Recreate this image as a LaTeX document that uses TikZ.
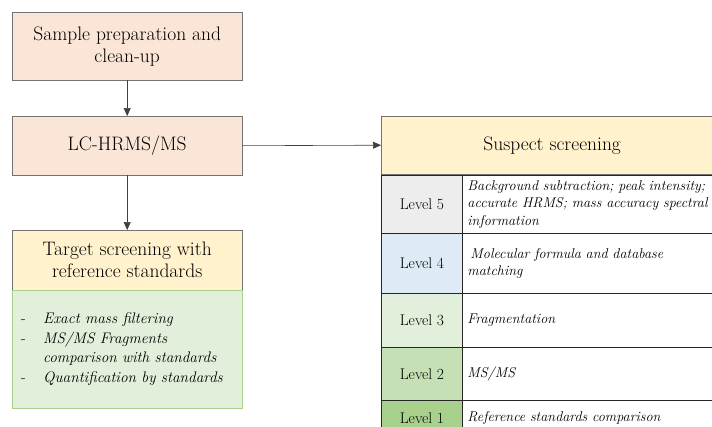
\documentclass[tikz,border=0pt]{standalone}
\usetikzlibrary{arrows.meta}
\definecolor{peach}{HTML}{FBE5D6}
\definecolor{cream}{HTML}{FFF2CC}
\definecolor{palegreen}{HTML}{E2EFDA}
\definecolor{edgegreen}{HTML}{A9D18E}
\definecolor{levelfive}{HTML}{EDEDED}
\definecolor{levelfour}{HTML}{DEEBF7}
\definecolor{levelthree}{HTML}{E2EFDA}
\definecolor{leveltwo}{HTML}{C5E0B4}
\definecolor{levelone}{HTML}{A9D18E}
\begin{document}
\begin{tikzpicture}[x=1pt,y=-1pt,
    box/.style={anchor=north west, inner sep=0pt, align=center,
        font=\fontsize{19.5}{22}\selectfont},
    stage/.style={box, draw=black!55, fill=peach, minimum width=230pt},
    header/.style={box, draw=black!55, fill=cream},
    levelcell/.style={anchor=north west, draw=black!85, line width=0.9pt,
        minimum width=81pt, inner sep=0pt, font=\fontsize{15.5}{17}\selectfont},
    desccell/.style={anchor=north west, draw=black!85, line width=0.9pt,
        minimum width=262pt, text width=252pt, inner sep=0pt, align=left,
        font=\itshape\fontsize{14.2}{17.5}\selectfont},
    flow/.style={draw=black!75, line width=0.6pt, -{Triangle[length=8pt,width=7pt]}}]
    \useasboundingbox (0,0) rectangle (712,426);
    \clip (0,0) rectangle (712,426);

    % left column
    \node[stage, minimum height=68pt] (prep) at (12,12) {Sample preparation and\\clean-up};
    \node[stage, minimum height=59pt] (lchrms) at (12,116) {LC-HRMS/MS};
    \node[header, minimum width=230pt, minimum height=60pt] (target) at (12,230)
        {Target screening with\\reference standards};
    \node[anchor=north west, draw=edgegreen, fill=palegreen, minimum width=230pt,
        minimum height=118pt, inner sep=0pt] (targetbody) at (12,290) {};
    \node[anchor=west, inner sep=0pt, font=\itshape\fontsize{15.3}{19.5}\selectfont]
        (targetlist) at (21,349) {\begin{tabular}{@{}p{22pt}@{}l@{}}
        \upshape- & Exact mass filtering\\
        \upshape- & MS/MS Fragments\\
                  & comparison with standards\\
        \upshape- & Quantification by standards
        \end{tabular}};

    % suspect screening table
    \node[header, minimum width=342pt, minimum height=58pt] (suspect) at (381,116) {Suspect screening};
    \foreach \lv/\top/\h/\col/\desc in {
        5/175/58pt/levelfive/{Background subtraction; peak intensity;\\accurate HRMS; mass accuracy spectral\\information},
        4/233/60pt/levelfour/{\hspace{3pt}Molecular formula and database\\matching},
        3/293/54pt/levelthree/{Fragmentation},
        2/347/53pt/leveltwo/{MS/MS},
        1/400/35pt/levelone/{Reference standards comparison}} {
        \node[levelcell, fill=\col, minimum height=\h] (level\lv) at (381,\top) {Level \lv};
        \node[desccell, minimum height=\h] (desc\lv) at (462,\top) {\desc};
    }

    \draw[flow] (prep) -- (lchrms);
    \draw[flow] (lchrms) -- (target);
    \draw[flow] (lchrms.east) -- (suspect.west);
\end{tikzpicture}
\end{document}
